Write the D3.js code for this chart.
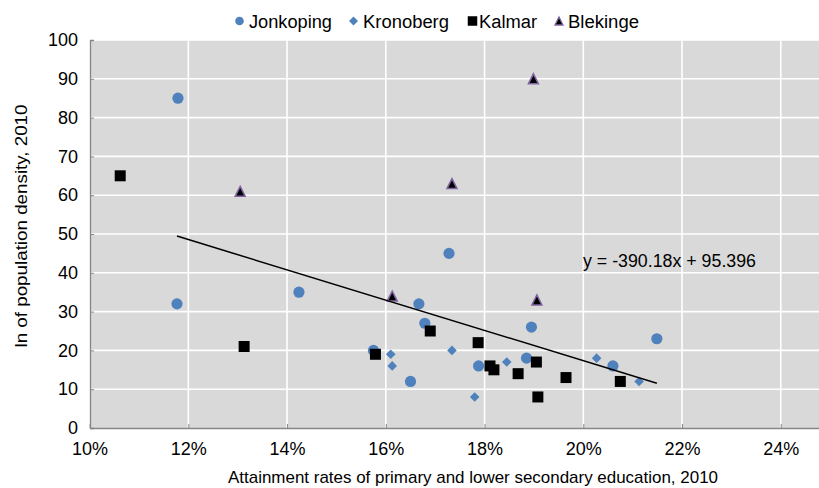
<!DOCTYPE html>
<html>
<head>
<meta charset="utf-8">
<script src="https://cdn.jsdelivr.net/npm/d3@7"></script>
<style>
  body { margin: 0; background: #fff; }
  svg { display: block; font-family: "Liberation Sans", Arial, sans-serif; }
</style>
</head>
<body>
<svg id="chart" width="819" height="488"></svg>
<script>
// ---- data ----
const categories = ["Jonkoping", "Kronoberg", "Kalmar", "Blekinge"];

const jonkopingX = [0.1179, 0.1177, 0.1424, 0.1575, 0.1650, 0.1667, 0.1679, 0.1728, 0.1788, 0.1885, 0.1895, 0.2060, 0.2149];
const jonkopingY = [85, 32, 35, 20, 12, 32, 27, 45, 16, 18, 26, 16, 23];

const kronobergX = [0.1610, 0.1613, 0.1734, 0.1780, 0.1845, 0.2027, 0.2113];
const kronobergY = [19, 16, 20, 8, 17, 18, 12];

const kalmarX = [0.1062, 0.1313, 0.1579, 0.1690, 0.1787, 0.1811, 0.1819, 0.1868, 0.1905, 0.1908, 0.1965, 0.2075];
const kalmarY = [65, 21, 19, 25, 22, 16, 15, 14, 17, 8, 13, 12];

const blekingeX = [0.1305, 0.1613, 0.1734, 0.1899, 0.1906];
const blekingeY = [61, 34, 63, 90, 33];

const xTicks = [0.10, 0.12, 0.14, 0.16, 0.18, 0.20, 0.22, 0.24];
const yTicks = [0, 10, 20, 30, 40, 50, 60, 70, 80, 90, 100];

const trendSlope = -390.18;
const trendIntercept = 95.396;
const trendX = [0.1177, 0.2149];
const trendLabel = "y = -390.18x + 95.396";

const xTitle = "Attainment rates of primary and lower secondary education, 2010";
const yTitle = "ln of population density, 2010";

// ---- layout ----
const W = 819, H = 488;
const svg = d3.select("#chart");
const x = d3.scaleLinear().domain([0.10, 0.26]).range([89.6, 879.5]);
const y = d3.scaleLinear().domain([0, 100]).range([428, 40]);
const plotL = 90, plotR = W, plotT = 40, plotB = 428;

svg.append("defs").append("clipPath").attr("id", "clip")
  .append("rect").attr("x", plotL).attr("y", plotT - 1).attr("width", plotR - plotL).attr("height", plotB - plotT + 1);

svg.append("rect").attr("x", plotL).attr("y", plotT).attr("width", plotR - plotL).attr("height", plotB - plotT)
  .attr("fill", "#d9d9d9");

const grid = svg.append("g").attr("clip-path", "url(#clip)");
grid.selectAll("line.v").data(xTicks.slice(1)).join("line")
  .attr("x1", d => x(d)).attr("x2", d => x(d)).attr("y1", plotT).attr("y2", plotB)
  .attr("stroke", "#fff").attr("stroke-width", 1.6);
grid.selectAll("line.h").data(yTicks.slice(1)).join("line")
  .attr("x1", plotL).attr("x2", plotR).attr("y1", d => y(d)).attr("y2", d => y(d))
  .attr("stroke", "#fff").attr("stroke-width", 1.6);

// axes
const yAxis = d3.axisLeft(y).tickValues(yTicks).tickSize(-4).tickPadding(12).tickFormat(d3.format("d"));
const gy = svg.append("g").attr("transform", `translate(${plotL},0)`).call(yAxis);
gy.select(".domain").attr("stroke", "#868686").attr("stroke-width", 1.3);
gy.selectAll(".tick line").attr("stroke", "#868686");
gy.selectAll(".tick text").attr("font-size", 18).attr("fill", "#000").attr("font-family", "Liberation Sans, Arial, sans-serif");

const xAxis = d3.axisBottom(x).tickValues(xTicks).tickSize(-4).tickPadding(14).tickFormat(d3.format(".0%"));
const gx = svg.append("g").attr("transform", `translate(0,${plotB})`).call(xAxis);
gx.select(".domain").attr("d", `M${plotL},0.5H${plotR}`).attr("stroke", "#868686").attr("stroke-width", 1.3);
gx.selectAll(".tick line").attr("stroke", "#868686");
gx.selectAll(".tick text").attr("font-size", 18).attr("fill", "#000").attr("font-family", "Liberation Sans, Arial, sans-serif");

// titles
svg.append("text").attr("x", 473).attr("y", 483).attr("text-anchor", "middle")
  .attr("font-size", 17).attr("textLength", 490).attr("lengthAdjust", "spacingAndGlyphs").text(xTitle);
svg.append("text").attr("transform", "translate(27,226) rotate(-90)").attr("text-anchor", "middle")
  .attr("font-size", 17).attr("textLength", 243).attr("lengthAdjust", "spacingAndGlyphs").text(yTitle);

// marker shapes
const blue = "#4f81bd";
function diamondPath(h) { return `M0,${-h}L${h},0L0,${h}L${-h},0Z`; }
function squarePath(s) { return `M${-s/2},${-s/2}h${s}v${s}h${-s}Z`; }
function trianglePath(w, h) { return `M0,${-h/2}L${w/2},${h/2}L${-w/2},${h/2}Z`; }

const marks = svg.append("g").attr("clip-path", "url(#clip)");
const jon = d3.zip(jonkopingX, jonkopingY);
const kro = d3.zip(kronobergX, kronobergY);
const kal = d3.zip(kalmarX, kalmarY);
const ble = d3.zip(blekingeX, blekingeY);

marks.selectAll("circle.j").data(jon).join("circle")
  .attr("cx", d => x(d[0])).attr("cy", d => y(d[1])).attr("r", 5.6).attr("fill", blue);
marks.selectAll("path.k").data(kro).join("path")
  .attr("transform", d => `translate(${x(d[0])},${y(d[1])})`).attr("d", diamondPath(4.8)).attr("fill", blue);
marks.selectAll("path.ka").data(kal).join("path")
  .attr("transform", d => `translate(${x(d[0])},${y(d[1])})`).attr("d", squarePath(11)).attr("fill", "#000");
marks.selectAll("path.b").data(ble).join("path")
  .attr("transform", d => `translate(${x(d[0])},${y(d[1])})`).attr("d", trianglePath(10, 10))
  .attr("fill", "#000").attr("stroke", "#8064a2").attr("stroke-width", 1.5).attr("stroke-linejoin", "miter");

// trendline
const line = d3.line().x(d => x(d)).y(d => y(trendSlope * d + trendIntercept));
marks.append("path").datum(trendX).attr("d", line).attr("fill", "none").attr("stroke", "#000").attr("stroke-width", 1.5);

svg.append("text").attr("x", 583).attr("y", 267).attr("font-size", 18)
  .attr("textLength", 173).attr("lengthAdjust", "spacingAndGlyphs").text(trendLabel);

// legend
const legendItems = [
  { name: categories[0], mx: 239.5, tx: 249, tw: 83, draw: g => g.append("circle").attr("r", 4.3).attr("fill", blue) },
  { name: categories[1], mx: 353.5, tx: 363, tw: 86, draw: g => g.append("path").attr("d", diamondPath(4.5)).attr("fill", blue) },
  { name: categories[2], mx: 472.5, tx: 479, tw: 58, draw: g => g.append("path").attr("d", squarePath(9.5)).attr("fill", "#000") },
  { name: categories[3], mx: 559, tx: 568, tw: 71, draw: g => g.append("path").attr("d", trianglePath(8, 8)).attr("fill", "#000").attr("stroke", "#8064a2").attr("stroke-width", 1.3) }
];
const lg = svg.append("g");
legendItems.forEach(it => {
  const m = lg.append("g").attr("transform", `translate(${it.mx},21)`);
  it.draw(m);
  lg.append("text").attr("x", it.tx).attr("y", 27.5).attr("font-size", 18)
    .attr("textLength", it.tw).attr("lengthAdjust", "spacingAndGlyphs").text(it.name);
});
</script>
</body>
</html>
